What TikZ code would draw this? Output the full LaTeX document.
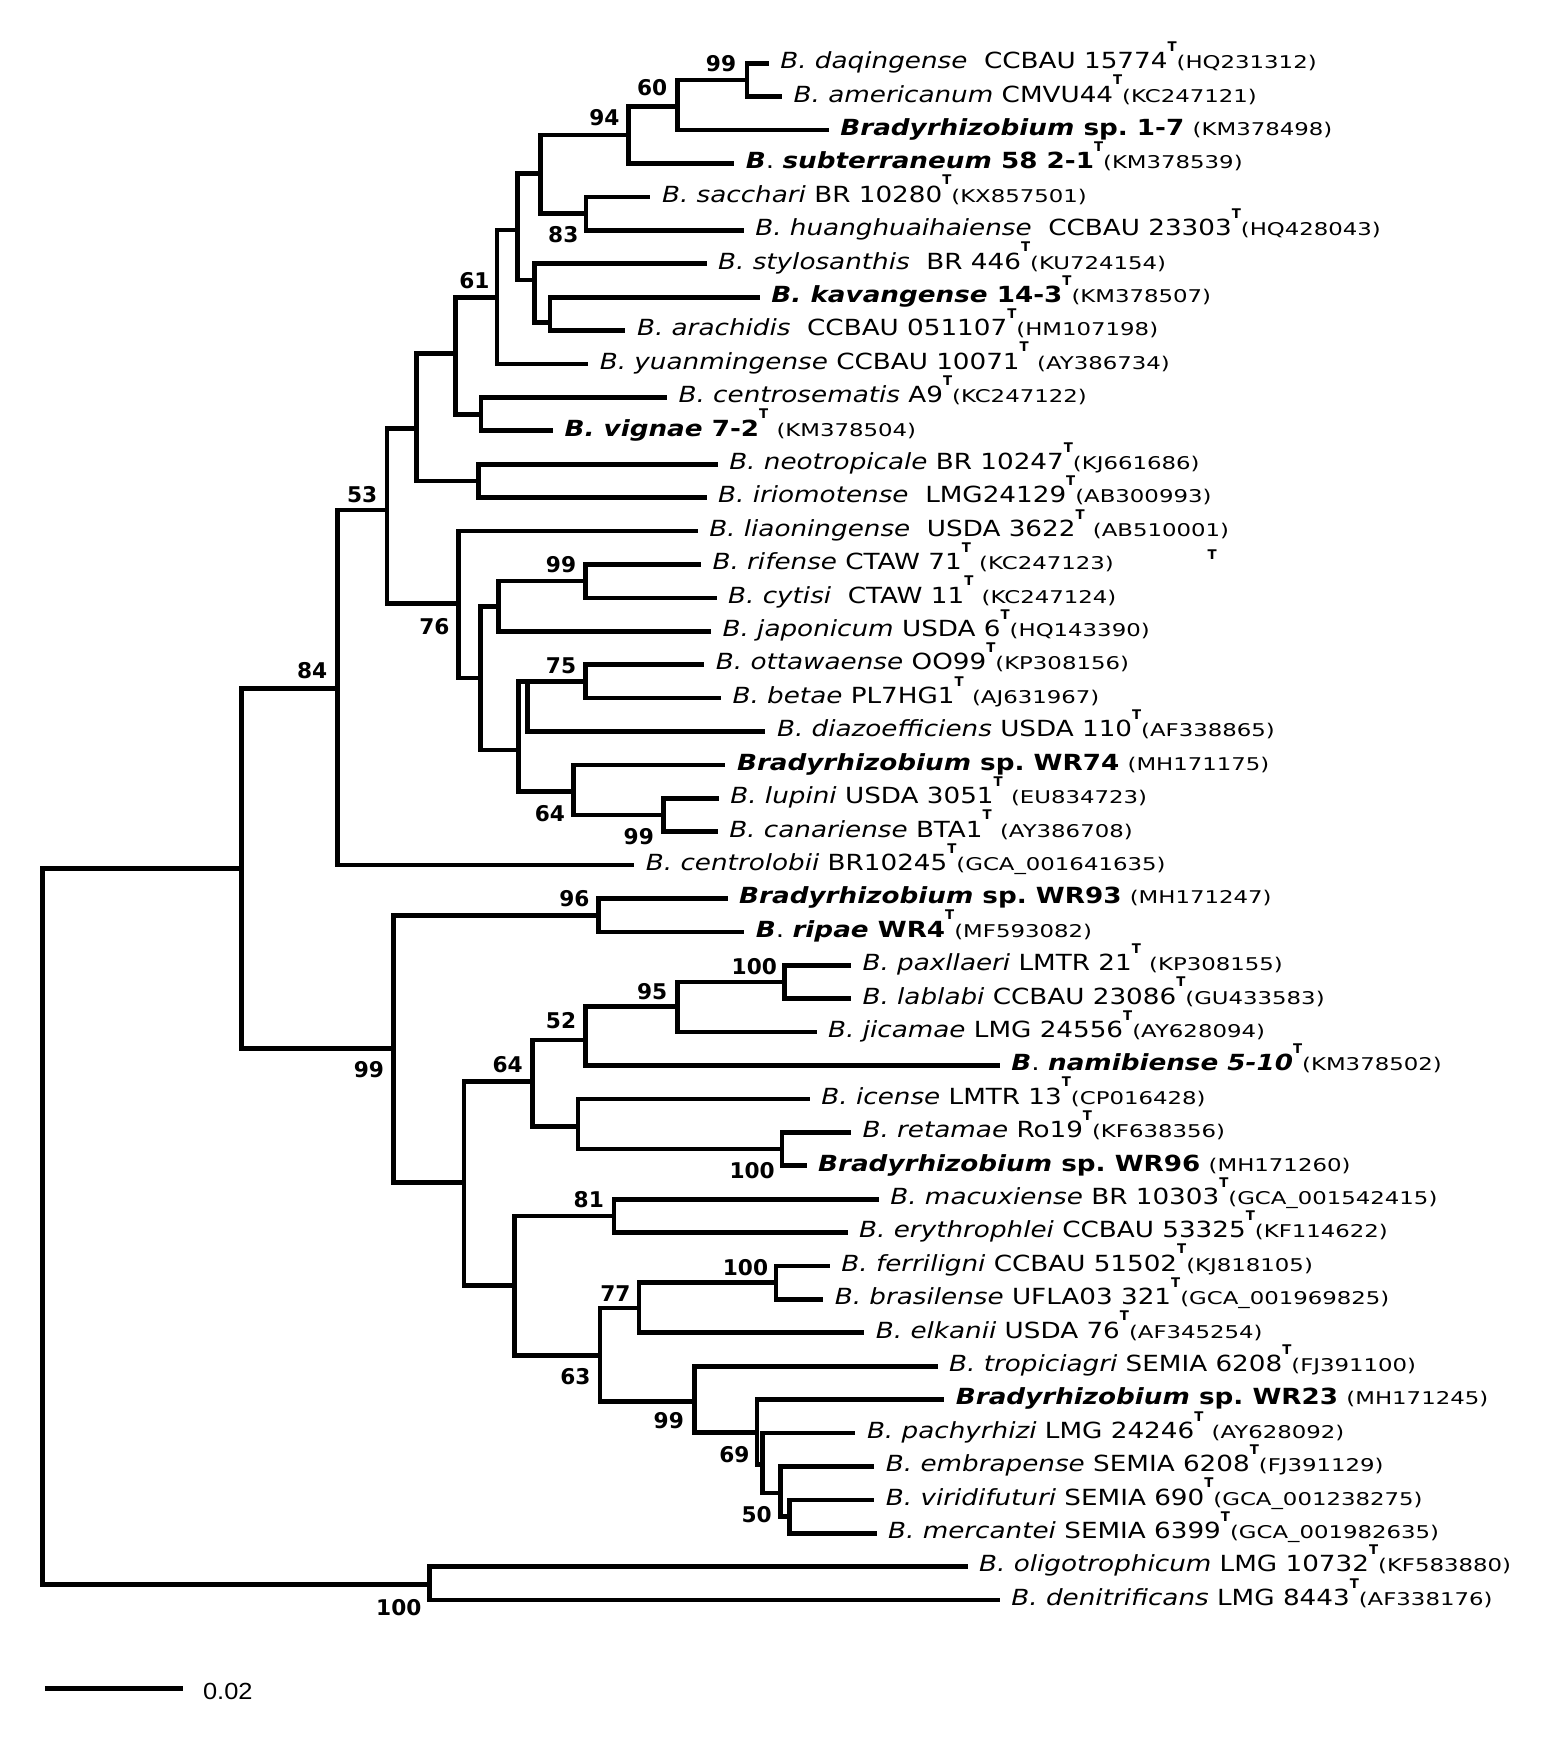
\documentclass[tikz,border=0pt]{standalone}
\usepackage{fontspec}
\setmainfont{DejaVu Sans}[FakeStretch=1.18]
\newfontfamily\accfont{DejaVu Sans}[FakeStretch=1.3]
\newfontfamily\bootfont{DejaVu Sans}
\newfontfamily\barfont{Liberation Sans}[FakeStretch=1.09]
\usepackage{tikz}
\frenchspacing

% 模式菌株上标 T 与登录号
\newcommand{\tstrain}{\raisebox{7.8pt}{\bootfont\fontsize{6pt}{6pt}\selectfont\bfseries T}}
\newcommand{\accno}[1]{{\accfont\fontsize{7.9pt}{9pt}\selectfont(#1)}}

\tikzset{
    branch/.style={
        line width=2.1pt % 枝条粗细
    },
    leaf/.style={
        anchor=base west,
        inner sep=0pt,
        xshift=5pt,
        yshift=-2.4pt,
        font=\fontsize{10pt}{12pt}\selectfont
    },
    boot/.style={
        inner sep=0pt,
        font=\bootfont\fontsize{9.75pt}{11pt}\selectfont\bfseries
    }
}

\begin{document}
\begin{tikzpicture}[x=0.5pt, y=-0.5pt]
    \useasboundingbox (0,0) rectangle (1403,1568);

    % 叶端
    \foreach \i/\x in {1/692, 2/704, 3/746, 4/661, 5/585.5, 6/669.5, 7/636, 8/684,
                       9/563, 10/529.5, 11/600.4, 12/497.8, 13/646, 14/636, 15/628, 16/631,
                       17/645, 18/640, 19/634, 20/649, 21/689, 22/653, 23/647, 24/646,
                       25/571, 26/655, 27/670, 28/766, 29/766, 30/735, 31/900, 32/729,
                       33/766, 34/726, 35/791, 36/763, 37/747, 38/741, 39/778, 40/844,
                       41/850, 42/770, 43/787, 44/787, 45/789, 46/871, 47/900}
        \coordinate (t\i) at (\x,{57+30.07*(\i-1)});

    % 内部节点
    \coordinate (root) at (38,1104);
    \coordinate (nIng) at (217.4,782);
    \coordinate (nOut) at (386.5,1426);
    \coordinate (nA) at (304,620);
    \coordinate (n99b) at (354,944);
    \coordinate (n53) at (348.4,459);
    \coordinate (nB) at (375,385.5);
    \coordinate (nC) at (410,318);
    \coordinate (n61) at (447.3,267.6);
    \coordinate (nF) at (466,207);
    \coordinate (nG) at (486.6,156);
    \coordinate (n94) at (566,121.5);
    \coordinate (n60) at (609.8,96);
    \coordinate (n99a) at (672.5,72);
    \coordinate (n83) at (527.6,192.4);
    \coordinate (nH) at (481,252);
    \coordinate (nI) at (495,290);
    \coordinate (nE) at (433,373);
    \coordinate (nD) at (430.7,433);
    \coordinate (n76) at (412.6,543);
    \coordinate (nJ) at (432.7,610.4);
    \coordinate (nK) at (448.8,546);
    \coordinate (n99c) at (527,523.1);
    \coordinate (nL) at (466.8,675);
    \coordinate (nM) at (474.9,613.5);
    \coordinate (n75) at (527,613.3);
    \coordinate (n64a) at (516.3,712.5);
    \coordinate (n99d) at (597.4,733.5);
    \coordinate (n96) at (539,824);
    \coordinate (nN) at (417.6,1064.5);
    \coordinate (n64b) at (479.1,973.4);
    \coordinate (n52) at (526.9,936);
    \coordinate (n95) at (609.7,906);
    \coordinate (n100a) at (706,884);
    \coordinate (nP) at (520.2,1014);
    \coordinate (n100b) at (704,1034.3);
    \coordinate (nO) at (463,1157);
    \coordinate (n81) at (552.6,1094.5);
    \coordinate (n63) at (540,1220);
    \coordinate (n77) at (575.3,1177.4);
    \coordinate (n100c) at (698.6,1154.6);
    \coordinate (n99e) at (625.1,1261.4);
    \coordinate (n69) at (681.3,1289.3);
    \coordinate (nQ) at (686.6,1318.4);
    \coordinate (n50) at (702.7,1344);
    \coordinate (nR) at (710.7,1365);

    % 枝条
    \draw[branch] (root) |- (nIng) (root) |- (nOut);
    \draw[branch] (nIng) |- (nA) (nIng) |- (n99b);
    \draw[branch] (nA) |- (n53) (nA) |- (t25);
    \draw[branch] (n53) |- (nB) (n53) |- (n76);
    \draw[branch] (nB) |- (nC) (nB) |- (nD);
    \draw[branch] (nC) |- (n61) (nC) |- (nE);
    \draw[branch] (n61) |- (nF) (n61) |- (t10);
    \draw[branch] (nF) |- (nG) (nF) |- (nH);
    \draw[branch] (nG) |- (n94) (nG) |- (n83);
    \draw[branch] (n94) |- (n60) (n94) |- (t4);
    \draw[branch] (n60) |- (n99a) (n60) |- (t3);
    \draw[branch] (n99a) |- (t1) (n99a) |- (t2);
    \draw[branch] (n83) |- (t5) (n83) |- (t6);
    \draw[branch] (nH) |- (t7) (nH) |- (nI);
    \draw[branch] (nI) |- (t8) (nI) |- (t9);
    \draw[branch] (nE) |- (t11) (nE) |- (t12);
    \draw[branch] (nD) |- (t13) (nD) |- (t14);
    \draw[branch] (n76) |- (t15) (n76) |- (nJ);
    \draw[branch] (nJ) |- (nK) (nJ) |- (nL);
    \draw[branch] (nK) |- (n99c) (nK) |- (t18);
    \draw[branch] (n99c) |- (t16) (n99c) |- (t17);
    \draw[branch] (nL) |- (nM) (nL) |- (n64a);
    \draw[branch] (nM) |- (n75) (nM) |- (t21);
    \draw[branch] (n75) |- (t19) (n75) |- (t20);
    \draw[branch] (n64a) |- (t22) (n64a) |- (n99d);
    \draw[branch] (n99d) |- (t23) (n99d) |- (t24);
    \draw[branch] (n99b) |- (n96) (n99b) |- (nN);
    \draw[branch] (n96) |- (t26) (n96) |- (t27);
    \draw[branch] (nN) |- (n64b) (nN) |- (nO);
    \draw[branch] (n64b) |- (n52) (n64b) |- (nP);
    \draw[branch] (n52) |- (n95) (n52) |- (t31);
    \draw[branch] (n95) |- (n100a) (n95) |- (t30);
    \draw[branch] (n100a) |- (t28) (n100a) |- (t29);
    \draw[branch] (nP) |- (t32) (nP) |- (n100b);
    \draw[branch] (n100b) |- (t33) (n100b) |- (t34);
    \draw[branch] (nO) |- (n81) (nO) |- (n63);
    \draw[branch] (n81) |- (t35) (n81) |- (t36);
    \draw[branch] (n63) |- (n77) (n63) |- (n99e);
    \draw[branch] (n77) |- (n100c) (n77) |- (t39);
    \draw[branch] (n100c) |- (t37) (n100c) |- (t38);
    \draw[branch] (n99e) |- (t40) (n99e) |- (n69);
    \draw[branch] (n69) |- (t41) (n69) |- (nQ);
    \draw[branch] (nQ) |- (t42) (nQ) |- (n50);
    \draw[branch] (n50) |- (t43) (n50) |- (nR);
    \draw[branch] (nR) |- (t44) (nR) |- (t45);
    \draw[branch] (nOut) |- (t46) (nOut) |- (t47);

    % 菌株名称
    \node[leaf] (l1) at (t1) {\textit{B. daqingense}\ \ CCBAU 15774\tstrain\accno{HQ231312}};
    \node[leaf] (l2) at (t2) {\textit{B. americanum} CMVU44\tstrain\accno{KC247121}};
    \node[leaf] (l3) at (t3) {\textbf{\textit{Bradyrhizobium} sp. 1-7} \accno{KM378498}};
    \node[leaf] (l4) at (t4) {\textbf{\textit{B}}. \textbf{\textit{subterraneum} 58 2-1}\tstrain\accno{KM378539}};
    \node[leaf] (l5) at (t5) {\textit{B. sacchari} BR 10280\tstrain\accno{KX857501}};
    \node[leaf] (l6) at (t6) {\textit{B. huanghuaihaiense}\ \ CCBAU 23303\tstrain\accno{HQ428043}};
    \node[leaf] (l7) at (t7) {\textit{B. stylosanthis}\ \ BR 446\tstrain\accno{KU724154}};
    \node[leaf] (l8) at (t8) {\textbf{\textit{B. kavangense} 14-3}\tstrain\accno{KM378507}};
    \node[leaf] (l9) at (t9) {\textit{B. arachidis}\ \ CCBAU 051107\tstrain\accno{HM107198}};
    \node[leaf] (l10) at (t10) {\textit{B. yuanmingense} CCBAU 10071\tstrain\ \accno{AY386734}};
    \node[leaf] (l11) at (t11) {\textit{B. centrosematis} A9\tstrain\accno{KC247122}};
    \node[leaf] (l12) at (t12) {\textbf{\textit{B. vignae} 7-2}\tstrain\ \accno{KM378504}};
    \node[leaf] (l13) at (t13) {\textit{B. neotropicale} BR 10247\tstrain\accno{KJ661686}};
    \node[leaf] (l14) at (t14) {\textit{B. iriomotense}\ \ LMG24129\tstrain\accno{AB300993}};
    \node[leaf] (l15) at (t15) {\textit{B. liaoningense}\ \ USDA 3622\tstrain\ \accno{AB510001}};
    \node[leaf] (l16) at (t16) {\textit{B. rifense} CTAW 71\tstrain\ \accno{KC247123}};
    \node[leaf] (l17) at (t17) {\textit{B. cytisi}\ \ CTAW 11\tstrain\ \accno{KC247124}};
    \node[leaf] (l18) at (t18) {\textit{B. japonicum} USDA 6\tstrain\accno{HQ143390}};
    \node[leaf] (l19) at (t19) {\textit{B. ottawaense} OO99\tstrain\accno{KP308156}};
    \node[leaf] (l20) at (t20) {\textit{B. betae} PL7HG1\tstrain\ \accno{AJ631967}};
    \node[leaf] (l21) at (t21) {\textit{B. diazoefficiens} USDA 110\tstrain\accno{AF338865}};
    \node[leaf] (l22) at (t22) {\textbf{\textit{Bradyrhizobium} sp. WR74} \accno{MH171175}};
    \node[leaf] (l23) at (t23) {\textit{B. lupini} USDA 3051\tstrain\ \accno{EU834723}};
    \node[leaf] (l24) at (t24) {\textit{B. canariense} BTA1\tstrain\ \accno{AY386708}};
    \node[leaf] (l25) at (t25) {\textit{B. centrolobii} BR10245\tstrain\accno{GCA\_001641635}};
    \node[leaf] (l26) at (t26) {\textbf{\textit{Bradyrhizobium} sp. WR93} \accno{MH171247}};
    \node[leaf] (l27) at (t27) {\textbf{\textit{B}}. \textbf{\textit{ripae} WR4}\tstrain\accno{MF593082}};
    \node[leaf] (l28) at (t28) {\textit{B. paxllaeri} LMTR 21\tstrain\ \accno{KP308155}};
    \node[leaf] (l29) at (t29) {\textit{B. lablabi} CCBAU 23086\tstrain\accno{GU433583}};
    \node[leaf] (l30) at (t30) {\textit{B. jicamae} LMG 24556\tstrain\accno{AY628094}};
    \node[leaf] (l31) at (t31) {\textbf{\textit{B}}. \textbf{\textit{namibiense 5-10}}\tstrain\accno{KM378502}};
    \node[leaf] (l32) at (t32) {\textit{B. icense} LMTR 13\tstrain\accno{CP016428}};
    \node[leaf] (l33) at (t33) {\textit{B. retamae} Ro19\tstrain\accno{KF638356}};
    \node[leaf] (l34) at (t34) {\textbf{\textit{Bradyrhizobium} sp. WR96} \accno{MH171260}};
    \node[leaf] (l35) at (t35) {\textit{B. macuxiense} BR 10303\tstrain\accno{GCA\_001542415}};
    \node[leaf] (l36) at (t36) {\textit{B. erythrophlei} CCBAU 53325\tstrain\accno{KF114622}};
    \node[leaf] (l37) at (t37) {\textit{B. ferriligni} CCBAU 51502\tstrain\accno{KJ818105}};
    \node[leaf] (l38) at (t38) {\textit{B. brasilense} UFLA03 321\tstrain\accno{GCA\_001969825}};
    \node[leaf] (l39) at (t39) {\textit{B. elkanii} USDA 76\tstrain\accno{AF345254}};
    \node[leaf] (l40) at (t40) {\textit{B. tropiciagri} SEMIA 6208\tstrain\accno{FJ391100}};
    \node[leaf] (l41) at (t41) {\textbf{\textit{Bradyrhizobium} sp. WR23} \accno{MH171245}};
    \node[leaf] (l42) at (t42) {\textit{B. pachyrhizi} LMG 24246\tstrain\ \accno{AY628092}};
    \node[leaf] (l43) at (t43) {\textit{B. embrapense} SEMIA 6208\tstrain\accno{FJ391129}};
    \node[leaf] (l44) at (t44) {\textit{B. viridifuturi} SEMIA 690\tstrain\accno{GCA\_001238275}};
    \node[leaf] (l45) at (t45) {\textit{B. mercantei} SEMIA 6399\tstrain\accno{GCA\_001982635}};
    \node[leaf] (l46) at (t46) {\textit{B. oligotrophicum} LMG 10732\tstrain\accno{KF583880}};
    \node[leaf] (l47) at (t47) {\textit{B. denitrificans} LMG 8443\tstrain\accno{AF338176}};
    \node[inner sep=0pt, font=\bootfont\fontsize{6pt}{6pt}\selectfont\bfseries] (strayT) at (1091,499) {T};

    % 自展值
    \node[boot] (s99a) at (649,57) {99};
    \node[boot] (s60) at (587,79) {60};
    \node[boot] (s94) at (544,106) {94};
    \node[boot] (s83) at (507,211) {83};
    \node[boot] (s61) at (427,253) {61};
    \node[boot] (s53) at (326,445) {53};
    \node[boot] (s99c) at (505,508) {99};
    \node[boot] (s76) at (391,564) {76};
    \node[boot] (s75) at (505,599) {75};
    \node[boot] (s84) at (281,604) {84};
    \node[boot] (s64a) at (495,732) {64};
    \node[boot] (s99d) at (575,753) {99};
    \node[boot] (s96) at (517,809) {96};
    \node[boot] (s100a) at (679,870) {100};
    \node[boot] (s95) at (587,893) {95};
    \node[boot] (s52) at (505,919) {52};
    \node[boot] (s64b) at (457,958) {64};
    \node[boot] (s99b) at (332,963) {99};
    \node[boot] (s100b) at (677,1054) {100};
    \node[boot] (s81) at (530,1080) {81};
    \node[boot] (s100c) at (671,1141) {100};
    \node[boot] (s77) at (554,1164) {77};
    \node[boot] (s63) at (518,1239) {63};
    \node[boot] (s99e) at (602,1279) {99};
    \node[boot] (s69) at (661,1309) {69};
    \node[boot] (s50) at (681,1363) {50};
    \node[boot] (s100d) at (359,1447) {100};

    % 标尺
    \coordinate (sbL) at (40.5,1520);
    \coordinate (sbR) at (164.4,1520);
    \draw[branch] (sbL) -- (sbR);
    \node[anchor=base west, inner sep=0pt, font=\barfont\fontsize{10.5pt}{12pt}\selectfont] (sbtext) at (182.4,1530) {0.02};
\end{tikzpicture}
\end{document}
